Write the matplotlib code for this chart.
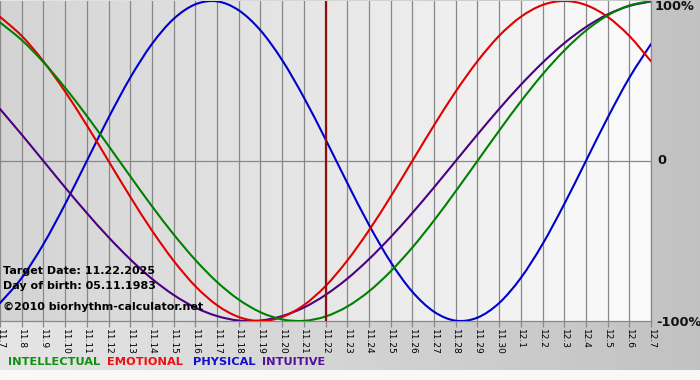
import matplotlib
matplotlib.use('Agg')
import matplotlib.pyplot as plt
from matplotlib.path import Path
from matplotlib.patches import PathPatch
import numpy as np

# ---------------- data ----------------
dates = ["11.7", "11.8", "11.9", "11.10", "11.11", "11.12", "11.13", "11.14",
         "11.15", "11.16", "11.17", "11.18", "11.19", "11.20", "11.21", "11.22",
         "11.23", "11.24", "11.25", "11.26", "11.27", "11.28", "11.29", "11.30",
         "12.1", "12.2", "12.3", "12.4", "12.5", "12.6", "12.7"]

intellectual = [0.866, 0.756, 0.618, 0.458, 0.282, 0.095, -0.095, -0.282, -0.458,
                -0.618, -0.756, -0.866, -0.945, -0.990, -0.999, -0.972, -0.910,
                -0.815, -0.690, -0.541, -0.372, -0.189, 0.000, 0.189, 0.372,
                0.541, 0.690, 0.815, 0.910, 0.972, 0.999]

emotional = [0.901, 0.782, 0.623, 0.434, 0.223, 0.000, -0.223, -0.434, -0.623,
             -0.782, -0.901, -0.975, -1.000, -0.975, -0.901, -0.782, -0.623,
             -0.434, -0.223, 0.000, 0.223, 0.434, 0.623, 0.782, 0.901, 0.975,
             1.000, 0.975, 0.901, 0.782, 0.623]

physical = [-0.888, -0.731, -0.520, -0.270, 0.000, 0.270, 0.520, 0.731, 0.888,
            0.979, 0.998, 0.942, 0.817, 0.631, 0.398, 0.136, -0.136, -0.398,
            -0.631, -0.817, -0.942, -0.998, -0.979, -0.888, -0.731, -0.520,
            -0.270, 0.000, 0.270, 0.520, 0.731]

intuitive = [0.325, 0.165, 0.000, -0.165, -0.325, -0.476, -0.614, -0.736, -0.837,
             -0.916, -0.969, -0.997, -0.997, -0.969, -0.916, -0.837, -0.736,
             -0.614, -0.476, -0.325, -0.165, 0.000, 0.165, 0.325, 0.476, 0.614,
             0.736, 0.837, 0.916, 0.969, 0.997]

series_names = ["INTELLECTUAL", "EMOTIONAL", "PHYSICAL", "INTUITIVE"]
series_colors = ["#008000", "#e00000", "#0000cc", "#4b0082"]
legend_colors = ["#109010", "#ee1111", "#1111cc", "#551199"]

target_date = "11.22"
info_lines = ["Target Date: 11.22.2025", "Day of birth: 05.11.1983",
              "\u00a92010 biorhythm-calculator.net"]
y_labels = ["100%", "0", "-100%"]


def smooth_path(xs, ys):
    """Smooth curve through the data points (Catmull-Rom as cubic Bezier)."""
    xs = np.asarray(xs, float)
    ys = np.asarray(ys, float)
    P = np.column_stack([xs, ys])
    n = len(P)
    verts = [P[0]]
    codes = [Path.MOVETO]
    for i in range(n - 1):
        p0 = P[i - 1] if i > 0 else P[i]
        p1 = P[i]
        p2 = P[i + 1]
        p3 = P[i + 2] if i + 2 < n else P[i + 1]
        c1 = p1 + (p2 - p0) / 6.0
        c2 = p2 - (p3 - p1) / 6.0
        verts += [c1, c2, p2]
        codes += [Path.CURVE4] * 3
    return Path(verts, codes)


# ---------------- figure ----------------
W, H = 700, 380
fig = plt.figure(figsize=(W / 100, H / 100), dpi=100)

# figure background gradient
bg = fig.add_axes([0, 0, 1, 1], zorder=-10)
bg.axis('off')
cols = np.linspace(0.90, 0.76, W)
img = np.tile(cols, (H, 1))
img[370:, :] = 0.975
bg.imshow(np.dstack([img] * 3), extent=[0, W, H, 0], aspect='auto',
          interpolation='bilinear')
bg.set_xlim(0, W)
bg.set_ylim(H, 0)

# plot area
left, right, top, bottom = 0, 651, 1, 321
ax = fig.add_axes([left / W, (H - bottom) / H, (right - left) / W, (bottom - top) / H])
x = np.arange(len(dates))
ax.set_xlim(x[0], x[-1])
ax.set_ylim(-1, 1)

grad = np.linspace(0.83, 0.985, 400)
ax.imshow(np.dstack([np.tile(grad, (10, 1))] * 3), extent=[x[0], x[-1], -1, 1],
          aspect='auto', zorder=0, interpolation='bilinear')

for xi in x:
    ax.axvline(xi, color='#888888', lw=0.9, zorder=1)
ax.axhline(0, color='#888888', lw=0.9, zorder=1)

# draw in the stacking order of the reference
for vals, c in [(physical, series_colors[2]), (intuitive, series_colors[3]),
                (emotional, series_colors[1]), (intellectual, series_colors[0])]:
    ax.add_patch(PathPatch(smooth_path(x, vals), fill=False, edgecolor=c,
                           lw=1.5, zorder=3, capstyle='round'))

ax.axvline(dates.index(target_date), color='#8b1010', lw=1.6, zorder=4)

for s in ['top', 'left']:
    ax.spines[s].set_visible(False)
for s in ['bottom', 'right']:
    ax.spines[s].set_color('#888888')
    ax.spines[s].set_linewidth(0.9)

ax.set_xticks(x)
ax.set_xticklabels(dates, rotation=-90, fontsize=6.5, va='top', ha='center',
                   family='DejaVu Sans')
ax.tick_params(axis='x', length=4, width=0.9, color='#888888', pad=1.5)
ax.set_yticks([])

# info text in plot
for t, yy in zip(info_lines, [271, 286, 307]):
    fig.text(3 / W, 1 - yy / H, t, fontsize=8, fontweight='bold', color='black',
             va='center', ha='left', family='DejaVu Sans')

# right axis labels
for t, yy, xx in zip(y_labels, [7, 161, 322], [655, 657, 656]):
    fig.text(xx / W, 1 - yy / H, t, fontsize=9.3, fontweight='bold', color='#111111',
             va='center', ha='left', family='DejaVu Sans')

# legend
for t, c, xx in zip(series_names, legend_colors, [8, 107, 193, 262]):
    fig.text(xx / W, 1 - 362 / H, t, fontsize=8.2, fontweight='bold', color=c,
             va='center', ha='left', family='DejaVu Sans')

fig.savefig('out.png', dpi=100)
